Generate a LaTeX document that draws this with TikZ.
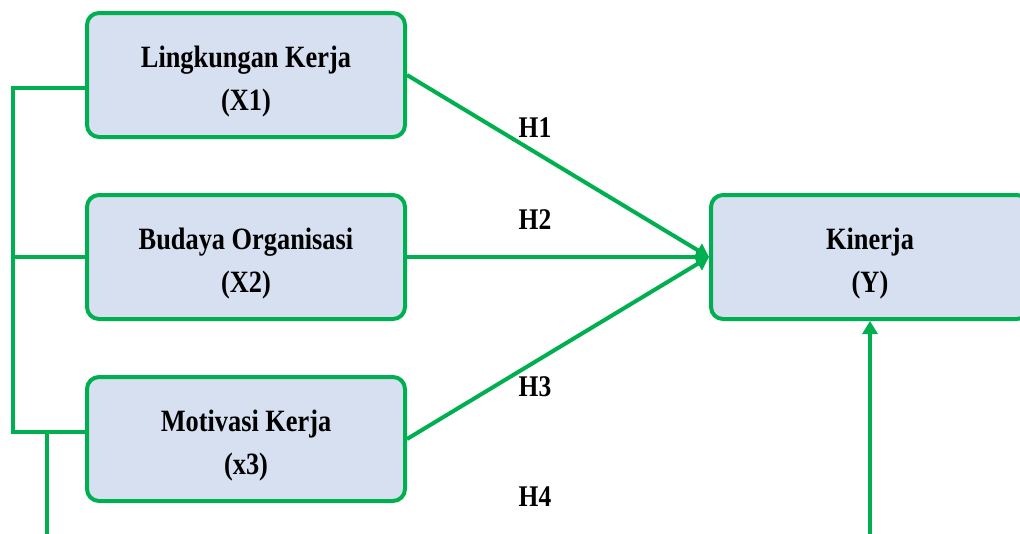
\documentclass[tikz,border=0pt]{standalone}
\usepackage{fontspec}
\setmainfont{Liberation Serif}[FakeStretch=0.85]
\usetikzlibrary{positioning, arrows.meta}
\definecolor{hijau}{RGB}{0,176,80}
\definecolor{biru}{RGB}{214,224,240}
\tikzset{
>={Triangle[length=13pt,width=15pt]}, % arrow heads of the paths
node distance=54pt, % gap between the variable boxes
variabel/.style={draw=hijau, line width=4pt, fill=biru, rounded corners=12pt,
  minimum width=318pt, minimum height=124pt, align=center,
  text height=70pt, text depth=0pt,
  font=\bfseries\fontsize{31}{43}\selectfont}, % the boxes
hipotesis/.style={font=\bfseries\fontsize{30}{32}\selectfont}, % H labels
garis/.style={draw=hijau, line width=4pt}, % green lines
}

\begin{document}
\begin{tikzpicture}[x=1pt, y=-1pt]
    \clip (0,0) rectangle (1020,533);
    \fill[white] (0,0) rectangle (1020,533);
    % variables
    \node[variabel] (x1) at (246,75) {Lingkungan Kerja\\(X1)};
    \node[variabel, below=of x1] (x2) {Budaya Organisasi\\(X2)};
    \node[variabel, below=of x2] (x3) {Motivasi Kerja\\(x3)};
    \node[variabel, right=302pt of x2] (y) {Kinerja\\(Y)};
    % hypotheses
    \node[hipotesis] (h1) at (535,128) {H1};
    \node[hipotesis] (h2) at (535,220) {H2};
    \node[hipotesis] (h3) at (535,387) {H3};
    \node[hipotesis] (h4) at (535,497) {H4};
    % left bracket
    \coordinate (a1) at (13,88);
    \coordinate (a3) at (13,432);
    \coordinate (bawah1) at (47,545);
    \coordinate (bawah2) at (y.south |- 0,545);
    \draw[garis] (x1.west |- a1) -- (a1) -- (a3) -- (x3.west |- a3);
    \draw[garis] (x2.west) -- (x2.west -| a1);
    \draw[garis] (bawah1) -- (bawah1 |- a3);
    % paths
    \draw[garis, ->] (x1.east) -- (y.west);
    \draw[garis, ->] (x2.east) -- (y.west);
    \draw[garis, ->] (x3.east) -- (y.west);
    \draw[garis, ->] (bawah2) -- (y.south);
\end{tikzpicture}
\end{document}
